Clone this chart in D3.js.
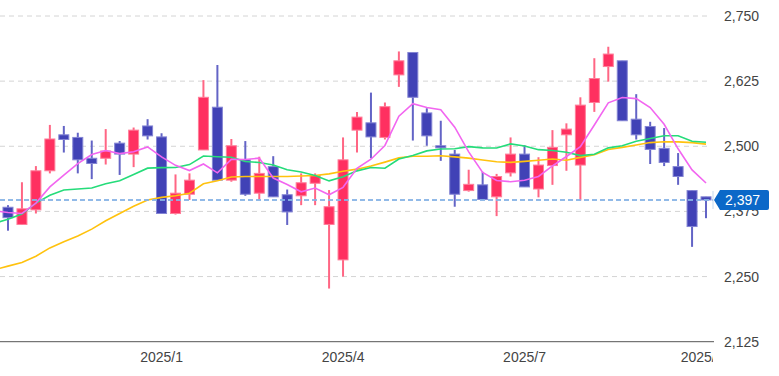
<!DOCTYPE html>
<html><head><meta charset="utf-8">
<script src="https://cdn.jsdelivr.net/npm/d3@7/dist/d3.min.js"></script>
<style>html,body{margin:0;padding:0;background:#fff;} svg{display:block;font-family:"Liberation Sans",Arial,sans-serif;}</style>
</head><body><svg id="chart" width="779" height="376"></svg>
<script>
// Weekly candles (first week: 2024-10-21)
const weekStart = "2024-10-21";
const opens  = [2383,2350,2378,2453,2522,2517,2477,2477,2506,2485,2539,2518,2371,2408,2493,2575,2435,2474,2410,2461,2407,2405,2429,2350,2282,2531,2545,2517,2637,2680,2564,2501,2485,2415,2426,2403,2449,2485,2418,2463,2522,2464,2584,2653,2664,2552,2538,2496,2461,2415,2403];
const highs  = [2387,2431,2462,2541,2539,2526,2511,2533,2510,2536,2552,2525,2446,2448,2627,2656,2514,2510,2480,2481,2417,2448,2448,2416,2517,2566,2603,2584,2682,2680,2573,2549,2493,2455,2451,2447,2517,2502,2479,2531,2544,2594,2669,2691,2664,2600,2547,2535,2487,2416,2403];
const lows   = [2338,2349,2371,2448,2488,2448,2437,2465,2445,2460,2513,2371,2369,2397,2493,2435,2432,2405,2398,2403,2349,2387,2387,2227,2250,2488,2477,2513,2614,2511,2501,2472,2384,2413,2398,2366,2442,2422,2402,2426,2453,2396,2566,2624,2549,2513,2466,2462,2426,2307,2362];
const closes = [2363,2380,2453,2514,2513,2474,2467,2491,2485,2531,2520,2371,2410,2435,2594,2435,2501,2408,2448,2403,2374,2430,2444,2384,2474,2556,2518,2576,2664,2594,2520,2497,2408,2427,2398,2442,2485,2422,2464,2498,2533,2579,2630,2677,2549,2522,2494,2469,2442,2346,2397];
// Moving averages; first value belongs to the week before the first candle
const ma5  = [2376,2373,2371,2391,2422,2444.6,2466.8,2484.2,2491.8,2486,2489.6,2498.8,2479.6,2463.4,2453.4,2466,2449,2475,2474.6,2477.2,2439,2426.8,2412.6,2419.8,2407,2421.2,2457.6,2475.2,2501.6,2557.6,2581.6,2574.4,2570.2,2536.6,2489.2,2450,2434.4,2432,2434.8,2442.2,2462.2,2480.4,2499.2,2540.8,2583.4,2593.6,2591.4,2574.4,2542.2,2495.2,2454.6,2429.6];
const ma13 = [2352,2360,2370,2391,2406,2416,2418,2420,2428,2434,2446,2458,2459,2459.4,2464.9,2481.4,2480,2479,2470.9,2468.9,2464,2455,2450.8,2444.1,2433.6,2441.5,2452.8,2459.2,2457.8,2475.4,2482.5,2491.2,2494.9,2495.3,2499.4,2496.9,2496.8,2504.5,2500.5,2493.5,2491.9,2488.6,2482.1,2484.8,2496.9,2500.9,2509.7,2514.8,2520.3,2520.3,2509.6,2507.7];
const ma26 = [2263,2270,2277,2289,2305,2317,2328,2341,2357,2371,2385,2397,2402,2405,2410,2428,2434,2441,2442,2442,2442,2442,2443,2444,2447,2452,2456.1,2462.0,2469.6,2477.7,2480.8,2481.0,2481.9,2479.7,2477.2,2473.8,2470.4,2469.1,2471.0,2473.1,2475.5,2473.2,2478.7,2483.7,2494.0,2497.9,2502.5,2507.1,2508.6,2508.5,2507.1,2504.1];
const yTicks = [2125,2250,2375,2500,2625,2750];
const xTickLabels = ["2025/1","2025/4","2025/7","2025/10"];
const lastPrice = 2397;

(function(){
const svg = d3.select("#chart");
const W = 779, H = 376;
const pLeft = 1, pRight = 713, pTop = 16, pBottom = 341.7;
const n = closes.length;
const parse = d3.timeParse("%Y-%m-%d");
const weeks = d3.range(n).map(i => d3.timeWeek.offset(parse(weekStart), i));
const fmt = d3.timeFormat("%Y/%-m");
const tickIdx = xTickLabels.map(l => weeks.findIndex(d => fmt(d) === l));

const x = d3.scaleBand().domain(d3.range(n)).range([pLeft, pRight]).padding(0);
const step = x.step();
const cx = i => x(0) + step * i + step / 2;
const y = d3.scaleLinear().domain([2125, 2750]).range([pBottom, pTop]);

svg.append("defs").append("clipPath").attr("id","plot")
  .append("rect").attr("x",0).attr("y",0).attr("width",pRight).attr("height",H);

// grid
svg.append("g").selectAll("line").data(yTicks.filter(t => t !== 2125)).join("line")
  .attr("x1",0).attr("x2",pRight-2).attr("y1",d=>y(d)).attr("y2",d=>y(d))
  .attr("stroke","#d4d4d4").attr("stroke-width",1).attr("stroke-dasharray","5,4");

const plot = svg.append("g").attr("clip-path","url(#plot)");
const data = d3.range(n).map(i => ({i, o:opens[i], h:highs[i], l:lows[i], c:closes[i]}));
const up = d => d.c >= d.o;
const bodyW = 10;

const cg = plot.append("g");
cg.selectAll("line").data(data).join("line")
  .attr("x1",d=>cx(d.i)).attr("x2",d=>cx(d.i))
  .attr("y1",d=>y(d.h)).attr("y2",d=>y(d.l))
  .attr("stroke",d=>up(d)?"#ff6684":"#6364c6").attr("stroke-width",2);
cg.selectAll("rect").data(data).join("rect")
  .attr("x",d=>cx(d.i)-bodyW/2)
  .attr("y",d=>y(Math.max(d.o,d.c)))
  .attr("width",bodyW)
  .attr("height",d=>Math.max(2, Math.abs(y(d.o)-y(d.c))))
  .attr("fill",d=>up(d)?"#ff3060":"#4142b6")
  .attr("stroke",d=>up(d)?"#ff7f9a":"#8485d4").attr("stroke-width",1);

// moving averages
const line = d3.line().x((d,k)=>cx(k-1)).y(d=>y(d));
[[ma26,"#ffc20e"],[ma13,"#25dc7a"],[ma5,"#f266f0"]].forEach(([arr,col]) => {
  plot.append("path").datum(arr).attr("d",line).attr("fill","none")
    .attr("stroke",col).attr("stroke-width",1.6);
});

// last price line
svg.append("line").attr("x1",0).attr("x2",pRight).attr("y1",y(lastPrice)).attr("y2",y(lastPrice))
  .attr("stroke","#86b3e6").attr("stroke-width",2).attr("stroke-dasharray","5,3").attr("opacity",0.9);

// bottom axis line
svg.append("line").attr("x1",0).attr("x2",pRight+1).attr("y1",pBottom).attr("y2",pBottom)
  .attr("stroke","#555").attr("stroke-width",1);

// x axis labels
const xg = svg.append("g").attr("clip-path","url(#plot)")
  .attr("transform",`translate(0,${pBottom})`)
  .call(d3.axisBottom(x).tickValues(tickIdx).tickSize(0).tickPadding(10)
    .tickFormat((d,k)=>xTickLabels[k]));
xg.select(".domain").remove();
xg.selectAll("text").attr("font-size",14).attr("fill","#444")
  .attr("font-family","'Liberation Sans',Arial,sans-serif");

// y axis labels
const yg = svg.append("g").attr("transform",`translate(${pRight},0)`)
  .call(d3.axisRight(y).tickValues(yTicks).tickSize(0).tickPadding(11).tickFormat(d3.format(",")));
yg.select(".domain").remove();
yg.selectAll("text").attr("font-size",14).attr("fill","#444")
  .attr("font-family","'Liberation Sans',Arial,sans-serif");

// price badge
const by = y(lastPrice);
svg.append("line").attr("x1",pRight).attr("x2",pRight).attr("y1",by-9).attr("y2",by+9)
  .attr("stroke","#c5d8ee").attr("stroke-width",1);
svg.append("path")
  .attr("d",`M${pRight+1},${by} L${pRight+7},${by-10} L767,${by-10} Q769,${by-10} 769,${by-8} L769,${by+8} Q769,${by+10} 767,${by+10} L${pRight+7},${by+10} Z`)
  .attr("fill","#0b68c8");
svg.append("text").attr("x",725).attr("y",by).attr("dy","0.35em")
  .attr("font-size",14).attr("fill","#fff").text(d3.format(",")(lastPrice));
})();
</script></body></html>
